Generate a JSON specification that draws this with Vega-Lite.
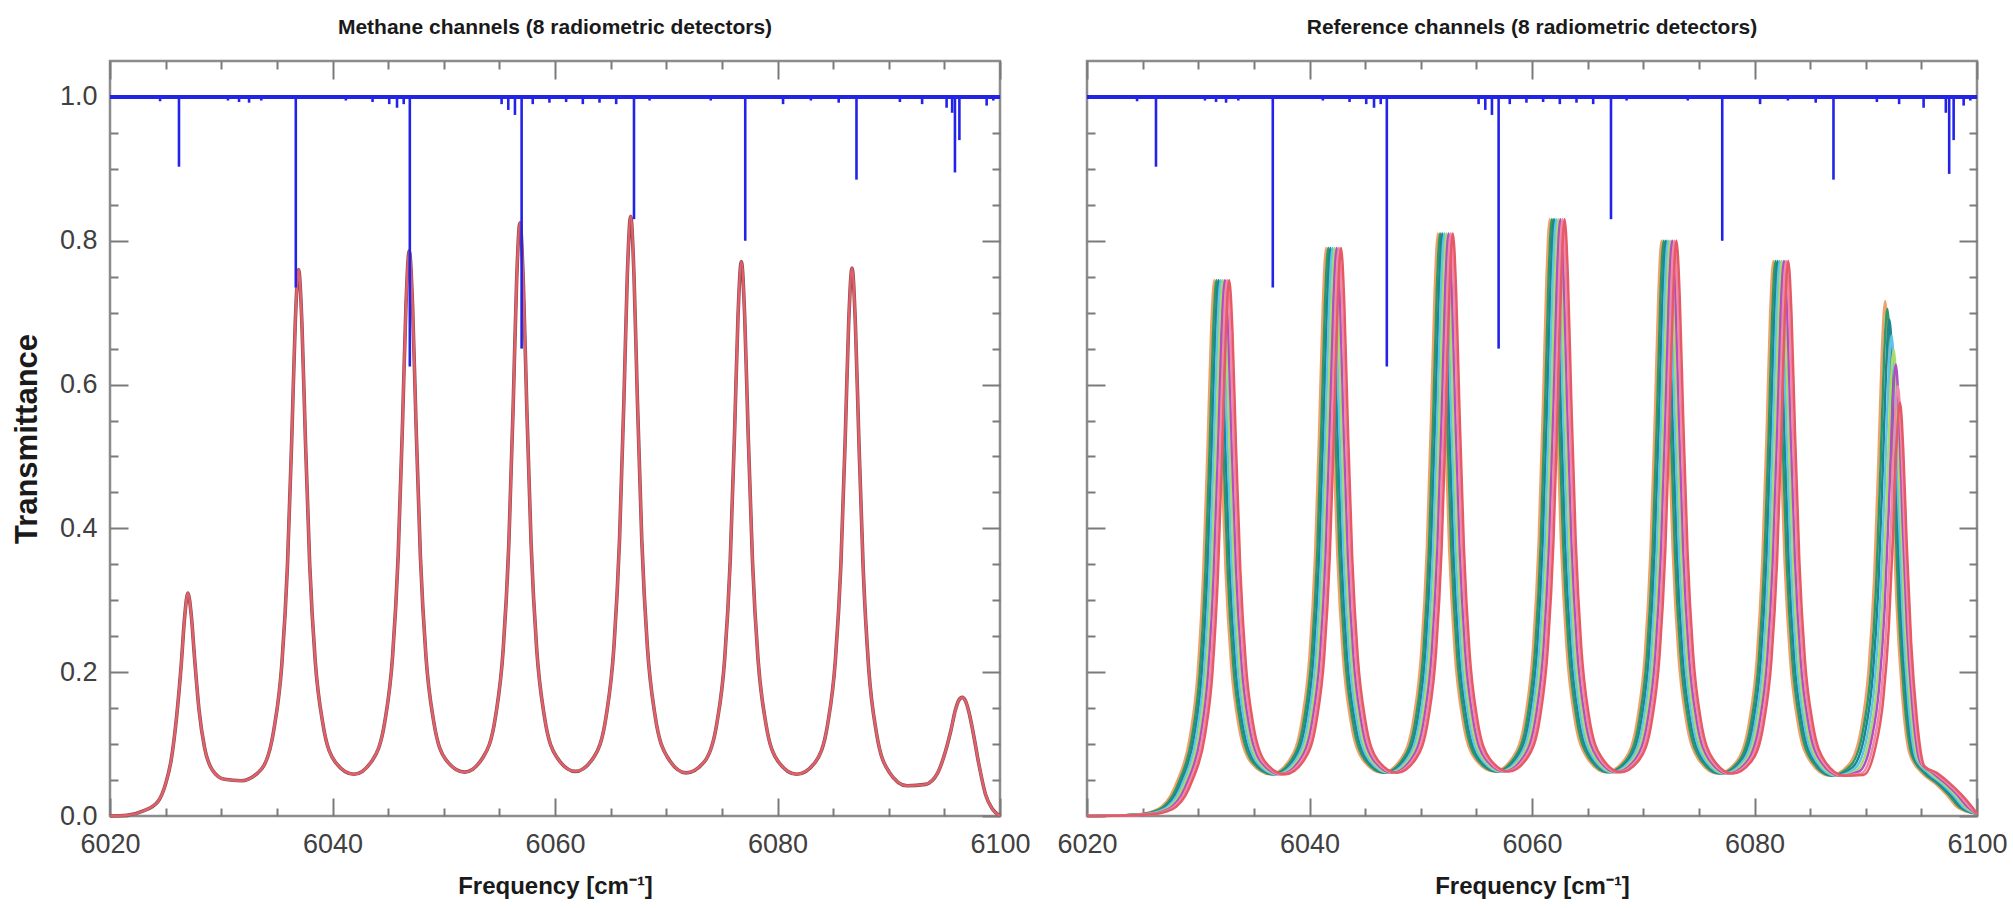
{
"$schema": "https://vega.github.io/schema/vega-lite/v6.json",
"background": "white",
"padding": {"left": 10, "top": 15, "right": 5, "bottom": 5},
"bounds": "flush",
"spacing": 87,
"config": {
 "view": {"stroke": "#8c8c8c", "strokeWidth": 2.5},
 "axis": {"domain": false, "grid": false, "tickColor": "#7a7a7a", "tickWidth": 2, "labelFlush": false, "labelOverlap": false, "labelFont": "Liberation Sans", "labelFontSize": 27, "labelColor": "#404040", "titleFont": "Liberation Sans", "titleFontWeight": "bold", "titleFontSize": 24, "titleColor": "#1a1a1a"},
 "title": {"font": "Liberation Sans", "fontSize": 21, "fontWeight": "bold", "color": "#1a1a1a", "offset": 22}
},
"datasets": {
 "b": [{"f":6024.5,"t":0.994},{"f":6026.2,"t":0.903},{"f":6030.6,"t":0.995},{"f":6031.6,"t":0.993},{"f":6032.5,"t":0.992},{"f":6033.6,"t":0.995},{"f":6036.7,"t":0.735},{"f":6041.2,"t":0.995},{"f":6043.6,"t":0.993},{"f":6045.1,"t":0.99},{"f":6045.8,"t":0.985},{"f":6046.4,"t":0.99},{"f":6046.95,"t":0.625},{"f":6055.2,"t":0.99},{"f":6055.8,"t":0.982},{"f":6056.4,"t":0.975},{"f":6057.0,"t":0.65},{"f":6058.0,"t":0.99},{"f":6059.5,"t":0.992},{"f":6061.0,"t":0.993},{"f":6062.5,"t":0.99},{"f":6064.0,"t":0.992},{"f":6065.5,"t":0.99},{"f":6067.1,"t":0.83},{"f":6068.5,"t":0.995},{"f":6074.0,"t":0.995},{"f":6077.1,"t":0.8},{"f":6080.5,"t":0.99},{"f":6083.0,"t":0.995},{"f":6085.5,"t":0.992},{"f":6087.1,"t":0.885},{"f":6091.0,"t":0.993},{"f":6093.0,"t":0.99},{"f":6095.2,"t":0.985},{"f":6098.8,"t":0.988},{"f":6099.4,"t":0.995}],
 "eL": [{"f":6095.7,"t":0.978},{"f":6095.95,"t":0.895},{"f":6096.35,"t":0.94}],
 "eR": [{"f":6097.2,"t":0.978},{"f":6097.5,"t":0.893},{"f":6097.9,"t":0.94}],
 "m": [{"f":6020,"t":0},{"f":6021.5,"t":0.001},{"f":6023,"t":0.007},{"f":6024.3,"t":0.02},{"f":6025,"t":0.045},{"f":6025.5,"t":0.078},{"f":6026,"t":0.14},{"f":6026.4,"t":0.21},{"f":6026.7,"t":0.275},{"f":6027,"t":0.31},{"f":6027.3,"t":0.28},{"f":6027.6,"t":0.22},{"f":6028,"t":0.148},{"f":6028.5,"t":0.095},{"f":6029.2,"t":0.064},{"f":6030.3,"t":0.051},{"f":6031.8,"t":0.049},{"f":6033.65,"t":0.066},{"f":6034.75,"t":0.122},{"f":6035.45,"t":0.212},{"f":6035.95,"t":0.348},{"f":6036.35,"t":0.531},{"f":6036.65,"t":0.685},{"f":6036.95,"t":0.76},{"f":6037.25,"t":0.685},{"f":6037.55,"t":0.531},{"f":6037.95,"t":0.35},{"f":6038.45,"t":0.215},{"f":6039.15,"t":0.127},{"f":6040.25,"t":0.075},{"f":6041.93,"t":0.058},{"f":6043.6,"t":0.078},{"f":6044.7,"t":0.131},{"f":6045.4,"t":0.222},{"f":6045.9,"t":0.361},{"f":6046.3,"t":0.549},{"f":6046.6,"t":0.709},{"f":6046.9,"t":0.786},{"f":6047.2,"t":0.709},{"f":6047.5,"t":0.549},{"f":6047.9,"t":0.361},{"f":6048.4,"t":0.222},{"f":6049.1,"t":0.131},{"f":6050.2,"t":0.078},{"f":6051.88,"t":0.061},{"f":6053.55,"t":0.082},{"f":6054.65,"t":0.138},{"f":6055.35,"t":0.233},{"f":6055.85,"t":0.379},{"f":6056.25,"t":0.576},{"f":6056.55,"t":0.744},{"f":6056.85,"t":0.825},{"f":6057.15,"t":0.744},{"f":6057.45,"t":0.576},{"f":6057.85,"t":0.379},{"f":6058.35,"t":0.233},{"f":6059.05,"t":0.138},{"f":6060.15,"t":0.082},{"f":6061.83,"t":0.062},{"f":6063.5,"t":0.082},{"f":6064.6,"t":0.139},{"f":6065.3,"t":0.236},{"f":6065.8,"t":0.384},{"f":6066.2,"t":0.582},{"f":6066.5,"t":0.752},{"f":6066.8,"t":0.834},{"f":6067.1,"t":0.752},{"f":6067.4,"t":0.582},{"f":6067.8,"t":0.384},{"f":6068.3,"t":0.236},{"f":6069,"t":0.139},{"f":6070.1,"t":0.082},{"f":6071.78,"t":0.06},{"f":6073.45,"t":0.076},{"f":6074.55,"t":0.129},{"f":6075.25,"t":0.218},{"f":6075.75,"t":0.355},{"f":6076.15,"t":0.538},{"f":6076.45,"t":0.695},{"f":6076.75,"t":0.771},{"f":6077.05,"t":0.695},{"f":6077.35,"t":0.538},{"f":6077.75,"t":0.355},{"f":6078.25,"t":0.218},{"f":6078.95,"t":0.129},{"f":6080.05,"t":0.076},{"f":6081.73,"t":0.058},{"f":6083.4,"t":0.075},{"f":6084.5,"t":0.127},{"f":6085.2,"t":0.216},{"f":6085.7,"t":0.35},{"f":6086.1,"t":0.532},{"f":6086.4,"t":0.687},{"f":6086.7,"t":0.762},{"f":6087,"t":0.685},{"f":6087.3,"t":0.53},{"f":6087.7,"t":0.345},{"f":6088.2,"t":0.205},{"f":6088.9,"t":0.115},{"f":6090,"t":0.062},{"f":6091.65,"t":0.042},{"f":6093.3,"t":0.044},{"f":6094.4,"t":0.06},{"f":6095.1,"t":0.09},{"f":6095.6,"t":0.12},{"f":6096,"t":0.148},{"f":6096.3,"t":0.161},{"f":6096.6,"t":0.165},{"f":6096.9,"t":0.16},{"f":6097.2,"t":0.145},{"f":6097.6,"t":0.115},{"f":6098.1,"t":0.072},{"f":6098.7,"t":0.03},{"f":6099.3,"t":0.01},{"f":6100,"t":0}],
 "r0": [{"f":6020,"t":0},{"f":6023.00,"t":0.001},{"f":6025.00,"t":0.003},{"f":6025.80,"t":0.006},{"f":6026.70,"t":0.013},{"f":6027.50,"t":0.028},{"f":6028.15,"t":0.05},{"f":6029.25,"t":0.11},{"f":6029.95,"t":0.2},{"f":6030.45,"t":0.34},{"f":6030.85,"t":0.52},{"f":6031.15,"t":0.672},{"f":6031.45,"t":0.745},{"f":6031.75,"t":0.672},{"f":6032.05,"t":0.52},{"f":6032.45,"t":0.343},{"f":6032.95,"t":0.211},{"f":6033.65,"t":0.124},{"f":6034.75,"t":0.074},{"f":6036.47,"t":0.058},{"f":6038.20,"t":0.078},{"f":6039.30,"t":0.132},{"f":6040.00,"t":0.223},{"f":6040.50,"t":0.363},{"f":6040.90,"t":0.552},{"f":6041.20,"t":0.712},{"f":6041.50,"t":0.79},{"f":6041.80,"t":0.712},{"f":6042.10,"t":0.552},{"f":6042.50,"t":0.363},{"f":6043.00,"t":0.223},{"f":6043.70,"t":0.132},{"f":6044.80,"t":0.078},{"f":6046.53,"t":0.06},{"f":6048.25,"t":0.08},{"f":6049.35,"t":0.135},{"f":6050.05,"t":0.229},{"f":6050.55,"t":0.373},{"f":6050.95,"t":0.566},{"f":6051.25,"t":0.73},{"f":6051.55,"t":0.81},{"f":6051.85,"t":0.73},{"f":6052.15,"t":0.566},{"f":6052.55,"t":0.373},{"f":6053.05,"t":0.229},{"f":6053.75,"t":0.135},{"f":6054.85,"t":0.08},{"f":6056.58,"t":0.062},{"f":6058.30,"t":0.082},{"f":6059.40,"t":0.138},{"f":6060.10,"t":0.235},{"f":6060.60,"t":0.382},{"f":6061.00,"t":0.58},{"f":6061.30,"t":0.748},{"f":6061.60,"t":0.83},{"f":6061.90,"t":0.748},{"f":6062.20,"t":0.58},{"f":6062.60,"t":0.382},{"f":6063.10,"t":0.235},{"f":6063.80,"t":0.138},{"f":6064.90,"t":0.082},{"f":6066.63,"t":0.061},{"f":6068.35,"t":0.079},{"f":6069.45,"t":0.133},{"f":6070.15,"t":0.226},{"f":6070.65,"t":0.368},{"f":6071.05,"t":0.559},{"f":6071.35,"t":0.721},{"f":6071.65,"t":0.8},{"f":6071.95,"t":0.721},{"f":6072.25,"t":0.559},{"f":6072.65,"t":0.368},{"f":6073.15,"t":0.226},{"f":6073.85,"t":0.133},{"f":6074.95,"t":0.079},{"f":6076.68,"t":0.059},{"f":6078.40,"t":0.076},{"f":6079.50,"t":0.129},{"f":6080.20,"t":0.218},{"f":6080.70,"t":0.355},{"f":6081.10,"t":0.539},{"f":6081.40,"t":0.696},{"f":6081.70,"t":0.772},{"f":6082.00,"t":0.696},{"f":6082.30,"t":0.539},{"f":6082.70,"t":0.355},{"f":6083.20,"t":0.218},{"f":6083.90,"t":0.129},{"f":6085.00,"t":0.076},{"f":6086.73,"t":0.056},{"f":6088.45,"t":0.071},{"f":6089.55,"t":0.119},{"f":6090.25,"t":0.203},{"f":6090.75,"t":0.329},{"f":6091.15,"t":0.5},{"f":6091.45,"t":0.646},{"f":6091.75,"t":0.716},{"f":6092.05,"t":0.63},{"f":6092.35,"t":0.473},{"f":6092.75,"t":0.301},{"f":6093.25,"t":0.172},{"f":6093.95,"t":0.086},{"f":6095.05,"t":0.06},{"f":6096.25,"t":0.045},{"f":6097.25,"t":0.03},{"f":6098.25,"t":0.012},{"f":6100,"t":0.003}],
 "r1": [{"f":6020,"t":0},{"f":6023.19,"t":0.001},{"f":6025.19,"t":0.003},{"f":6025.99,"t":0.006},{"f":6026.89,"t":0.013},{"f":6027.69,"t":0.028},{"f":6028.34,"t":0.05},{"f":6029.44,"t":0.11},{"f":6030.14,"t":0.2},{"f":6030.64,"t":0.34},{"f":6031.04,"t":0.52},{"f":6031.34,"t":0.672},{"f":6031.64,"t":0.745},{"f":6031.94,"t":0.672},{"f":6032.24,"t":0.52},{"f":6032.64,"t":0.343},{"f":6033.14,"t":0.211},{"f":6033.84,"t":0.124},{"f":6034.94,"t":0.074},{"f":6036.66,"t":0.058},{"f":6038.39,"t":0.078},{"f":6039.49,"t":0.132},{"f":6040.19,"t":0.223},{"f":6040.69,"t":0.363},{"f":6041.09,"t":0.552},{"f":6041.39,"t":0.712},{"f":6041.69,"t":0.79},{"f":6041.99,"t":0.712},{"f":6042.29,"t":0.552},{"f":6042.69,"t":0.363},{"f":6043.19,"t":0.223},{"f":6043.89,"t":0.132},{"f":6044.99,"t":0.078},{"f":6046.72,"t":0.06},{"f":6048.44,"t":0.08},{"f":6049.54,"t":0.135},{"f":6050.24,"t":0.229},{"f":6050.74,"t":0.373},{"f":6051.14,"t":0.566},{"f":6051.44,"t":0.73},{"f":6051.74,"t":0.81},{"f":6052.04,"t":0.73},{"f":6052.34,"t":0.566},{"f":6052.74,"t":0.373},{"f":6053.24,"t":0.229},{"f":6053.94,"t":0.135},{"f":6055.04,"t":0.08},{"f":6056.77,"t":0.062},{"f":6058.49,"t":0.082},{"f":6059.59,"t":0.138},{"f":6060.29,"t":0.235},{"f":6060.79,"t":0.382},{"f":6061.19,"t":0.58},{"f":6061.49,"t":0.748},{"f":6061.79,"t":0.83},{"f":6062.09,"t":0.748},{"f":6062.39,"t":0.58},{"f":6062.79,"t":0.382},{"f":6063.29,"t":0.235},{"f":6063.99,"t":0.138},{"f":6065.09,"t":0.082},{"f":6066.82,"t":0.061},{"f":6068.54,"t":0.079},{"f":6069.64,"t":0.133},{"f":6070.34,"t":0.226},{"f":6070.84,"t":0.368},{"f":6071.24,"t":0.559},{"f":6071.54,"t":0.721},{"f":6071.84,"t":0.8},{"f":6072.14,"t":0.721},{"f":6072.44,"t":0.559},{"f":6072.84,"t":0.368},{"f":6073.34,"t":0.226},{"f":6074.04,"t":0.133},{"f":6075.14,"t":0.079},{"f":6076.87,"t":0.059},{"f":6078.59,"t":0.076},{"f":6079.69,"t":0.129},{"f":6080.39,"t":0.218},{"f":6080.89,"t":0.355},{"f":6081.29,"t":0.539},{"f":6081.59,"t":0.696},{"f":6081.89,"t":0.772},{"f":6082.19,"t":0.696},{"f":6082.49,"t":0.539},{"f":6082.89,"t":0.355},{"f":6083.39,"t":0.218},{"f":6084.09,"t":0.129},{"f":6085.19,"t":0.076},{"f":6086.92,"t":0.056},{"f":6088.64,"t":0.07},{"f":6089.74,"t":0.118},{"f":6090.44,"t":0.199},{"f":6090.94,"t":0.324},{"f":6091.34,"t":0.492},{"f":6091.64,"t":0.636},{"f":6091.94,"t":0.705},{"f":6092.24,"t":0.62},{"f":6092.54,"t":0.465},{"f":6092.94,"t":0.296},{"f":6093.44,"t":0.169},{"f":6094.14,"t":0.085},{"f":6095.24,"t":0.06},{"f":6096.44,"t":0.045},{"f":6097.44,"t":0.03},{"f":6098.44,"t":0.012},{"f":6100,"t":0.003}],
 "r2": [{"f":6020,"t":0},{"f":6023.38,"t":0.001},{"f":6025.38,"t":0.003},{"f":6026.18,"t":0.006},{"f":6027.08,"t":0.013},{"f":6027.88,"t":0.028},{"f":6028.53,"t":0.05},{"f":6029.63,"t":0.11},{"f":6030.33,"t":0.2},{"f":6030.83,"t":0.34},{"f":6031.23,"t":0.52},{"f":6031.53,"t":0.672},{"f":6031.83,"t":0.745},{"f":6032.13,"t":0.672},{"f":6032.43,"t":0.52},{"f":6032.83,"t":0.343},{"f":6033.33,"t":0.211},{"f":6034.03,"t":0.124},{"f":6035.13,"t":0.074},{"f":6036.85,"t":0.058},{"f":6038.58,"t":0.078},{"f":6039.68,"t":0.132},{"f":6040.38,"t":0.223},{"f":6040.88,"t":0.363},{"f":6041.28,"t":0.552},{"f":6041.58,"t":0.712},{"f":6041.88,"t":0.79},{"f":6042.18,"t":0.712},{"f":6042.48,"t":0.552},{"f":6042.88,"t":0.363},{"f":6043.38,"t":0.223},{"f":6044.08,"t":0.132},{"f":6045.18,"t":0.078},{"f":6046.91,"t":0.06},{"f":6048.63,"t":0.08},{"f":6049.73,"t":0.135},{"f":6050.43,"t":0.229},{"f":6050.93,"t":0.373},{"f":6051.33,"t":0.566},{"f":6051.63,"t":0.73},{"f":6051.93,"t":0.81},{"f":6052.23,"t":0.73},{"f":6052.53,"t":0.566},{"f":6052.93,"t":0.373},{"f":6053.43,"t":0.229},{"f":6054.13,"t":0.135},{"f":6055.23,"t":0.08},{"f":6056.96,"t":0.062},{"f":6058.68,"t":0.082},{"f":6059.78,"t":0.138},{"f":6060.48,"t":0.235},{"f":6060.98,"t":0.382},{"f":6061.38,"t":0.58},{"f":6061.68,"t":0.748},{"f":6061.98,"t":0.83},{"f":6062.28,"t":0.748},{"f":6062.58,"t":0.58},{"f":6062.98,"t":0.382},{"f":6063.48,"t":0.235},{"f":6064.18,"t":0.138},{"f":6065.28,"t":0.082},{"f":6067.01,"t":0.061},{"f":6068.73,"t":0.079},{"f":6069.83,"t":0.133},{"f":6070.53,"t":0.226},{"f":6071.03,"t":0.368},{"f":6071.43,"t":0.559},{"f":6071.73,"t":0.721},{"f":6072.03,"t":0.8},{"f":6072.33,"t":0.721},{"f":6072.63,"t":0.559},{"f":6073.03,"t":0.368},{"f":6073.53,"t":0.226},{"f":6074.23,"t":0.133},{"f":6075.33,"t":0.079},{"f":6077.06,"t":0.059},{"f":6078.78,"t":0.076},{"f":6079.88,"t":0.129},{"f":6080.58,"t":0.218},{"f":6081.08,"t":0.355},{"f":6081.48,"t":0.539},{"f":6081.78,"t":0.696},{"f":6082.08,"t":0.772},{"f":6082.38,"t":0.696},{"f":6082.68,"t":0.539},{"f":6083.08,"t":0.355},{"f":6083.58,"t":0.218},{"f":6084.28,"t":0.129},{"f":6085.38,"t":0.076},{"f":6087.11,"t":0.056},{"f":6088.83,"t":0.068},{"f":6089.93,"t":0.115},{"f":6090.63,"t":0.195},{"f":6091.13,"t":0.317},{"f":6091.53,"t":0.482},{"f":6091.83,"t":0.622},{"f":6092.13,"t":0.69},{"f":6092.43,"t":0.607},{"f":6092.73,"t":0.455},{"f":6093.13,"t":0.29},{"f":6093.63,"t":0.166},{"f":6094.33,"t":0.083},{"f":6095.43,"t":0.06},{"f":6096.63,"t":0.045},{"f":6097.63,"t":0.03},{"f":6098.63,"t":0.012},{"f":6100,"t":0.003}],
 "r3": [{"f":6020,"t":0},{"f":6023.57,"t":0.001},{"f":6025.57,"t":0.003},{"f":6026.37,"t":0.006},{"f":6027.27,"t":0.013},{"f":6028.07,"t":0.028},{"f":6028.72,"t":0.05},{"f":6029.82,"t":0.11},{"f":6030.52,"t":0.2},{"f":6031.02,"t":0.34},{"f":6031.42,"t":0.52},{"f":6031.72,"t":0.672},{"f":6032.02,"t":0.745},{"f":6032.32,"t":0.672},{"f":6032.62,"t":0.52},{"f":6033.02,"t":0.343},{"f":6033.52,"t":0.211},{"f":6034.22,"t":0.124},{"f":6035.32,"t":0.074},{"f":6037.04,"t":0.058},{"f":6038.77,"t":0.078},{"f":6039.87,"t":0.132},{"f":6040.57,"t":0.223},{"f":6041.07,"t":0.363},{"f":6041.47,"t":0.552},{"f":6041.77,"t":0.712},{"f":6042.07,"t":0.79},{"f":6042.37,"t":0.712},{"f":6042.67,"t":0.552},{"f":6043.07,"t":0.363},{"f":6043.57,"t":0.223},{"f":6044.27,"t":0.132},{"f":6045.37,"t":0.078},{"f":6047.10,"t":0.06},{"f":6048.82,"t":0.08},{"f":6049.92,"t":0.135},{"f":6050.62,"t":0.229},{"f":6051.12,"t":0.373},{"f":6051.52,"t":0.566},{"f":6051.82,"t":0.73},{"f":6052.12,"t":0.81},{"f":6052.42,"t":0.73},{"f":6052.72,"t":0.566},{"f":6053.12,"t":0.373},{"f":6053.62,"t":0.229},{"f":6054.32,"t":0.135},{"f":6055.42,"t":0.08},{"f":6057.15,"t":0.062},{"f":6058.87,"t":0.082},{"f":6059.97,"t":0.138},{"f":6060.67,"t":0.235},{"f":6061.17,"t":0.382},{"f":6061.57,"t":0.58},{"f":6061.87,"t":0.748},{"f":6062.17,"t":0.83},{"f":6062.47,"t":0.748},{"f":6062.77,"t":0.58},{"f":6063.17,"t":0.382},{"f":6063.67,"t":0.235},{"f":6064.37,"t":0.138},{"f":6065.47,"t":0.082},{"f":6067.20,"t":0.061},{"f":6068.92,"t":0.079},{"f":6070.02,"t":0.133},{"f":6070.72,"t":0.226},{"f":6071.22,"t":0.368},{"f":6071.62,"t":0.559},{"f":6071.92,"t":0.721},{"f":6072.22,"t":0.8},{"f":6072.52,"t":0.721},{"f":6072.82,"t":0.559},{"f":6073.22,"t":0.368},{"f":6073.72,"t":0.226},{"f":6074.42,"t":0.133},{"f":6075.52,"t":0.079},{"f":6077.25,"t":0.059},{"f":6078.97,"t":0.076},{"f":6080.07,"t":0.129},{"f":6080.77,"t":0.218},{"f":6081.27,"t":0.355},{"f":6081.67,"t":0.539},{"f":6081.97,"t":0.696},{"f":6082.27,"t":0.772},{"f":6082.57,"t":0.696},{"f":6082.87,"t":0.539},{"f":6083.27,"t":0.355},{"f":6083.77,"t":0.218},{"f":6084.47,"t":0.129},{"f":6085.57,"t":0.076},{"f":6087.30,"t":0.056},{"f":6089.02,"t":0.066},{"f":6090.12,"t":0.111},{"f":6090.82,"t":0.189},{"f":6091.32,"t":0.307},{"f":6091.72,"t":0.466},{"f":6092.02,"t":0.602},{"f":6092.32,"t":0.668},{"f":6092.62,"t":0.588},{"f":6092.92,"t":0.441},{"f":6093.32,"t":0.281},{"f":6093.82,"t":0.16},{"f":6094.52,"t":0.08},{"f":6095.62,"t":0.06},{"f":6096.82,"t":0.045},{"f":6097.82,"t":0.03},{"f":6098.82,"t":0.012},{"f":6100,"t":0.003}],
 "r4": [{"f":6020,"t":0},{"f":6023.76,"t":0.001},{"f":6025.76,"t":0.003},{"f":6026.56,"t":0.006},{"f":6027.46,"t":0.013},{"f":6028.26,"t":0.028},{"f":6028.91,"t":0.05},{"f":6030.01,"t":0.11},{"f":6030.71,"t":0.2},{"f":6031.21,"t":0.34},{"f":6031.61,"t":0.52},{"f":6031.91,"t":0.672},{"f":6032.21,"t":0.745},{"f":6032.51,"t":0.672},{"f":6032.81,"t":0.52},{"f":6033.21,"t":0.343},{"f":6033.71,"t":0.211},{"f":6034.41,"t":0.124},{"f":6035.51,"t":0.074},{"f":6037.23,"t":0.058},{"f":6038.96,"t":0.078},{"f":6040.06,"t":0.132},{"f":6040.76,"t":0.223},{"f":6041.26,"t":0.363},{"f":6041.66,"t":0.552},{"f":6041.96,"t":0.712},{"f":6042.26,"t":0.79},{"f":6042.56,"t":0.712},{"f":6042.86,"t":0.552},{"f":6043.26,"t":0.363},{"f":6043.76,"t":0.223},{"f":6044.46,"t":0.132},{"f":6045.56,"t":0.078},{"f":6047.29,"t":0.06},{"f":6049.01,"t":0.08},{"f":6050.11,"t":0.135},{"f":6050.81,"t":0.229},{"f":6051.31,"t":0.373},{"f":6051.71,"t":0.566},{"f":6052.01,"t":0.73},{"f":6052.31,"t":0.81},{"f":6052.61,"t":0.73},{"f":6052.91,"t":0.566},{"f":6053.31,"t":0.373},{"f":6053.81,"t":0.229},{"f":6054.51,"t":0.135},{"f":6055.61,"t":0.08},{"f":6057.34,"t":0.062},{"f":6059.06,"t":0.082},{"f":6060.16,"t":0.138},{"f":6060.86,"t":0.235},{"f":6061.36,"t":0.382},{"f":6061.76,"t":0.58},{"f":6062.06,"t":0.748},{"f":6062.36,"t":0.83},{"f":6062.66,"t":0.748},{"f":6062.96,"t":0.58},{"f":6063.36,"t":0.382},{"f":6063.86,"t":0.235},{"f":6064.56,"t":0.138},{"f":6065.66,"t":0.082},{"f":6067.39,"t":0.061},{"f":6069.11,"t":0.079},{"f":6070.21,"t":0.133},{"f":6070.91,"t":0.226},{"f":6071.41,"t":0.368},{"f":6071.81,"t":0.559},{"f":6072.11,"t":0.721},{"f":6072.41,"t":0.8},{"f":6072.71,"t":0.721},{"f":6073.01,"t":0.559},{"f":6073.41,"t":0.368},{"f":6073.91,"t":0.226},{"f":6074.61,"t":0.133},{"f":6075.71,"t":0.079},{"f":6077.44,"t":0.059},{"f":6079.16,"t":0.076},{"f":6080.26,"t":0.129},{"f":6080.96,"t":0.218},{"f":6081.46,"t":0.355},{"f":6081.86,"t":0.539},{"f":6082.16,"t":0.696},{"f":6082.46,"t":0.772},{"f":6082.76,"t":0.696},{"f":6083.06,"t":0.539},{"f":6083.46,"t":0.355},{"f":6083.96,"t":0.218},{"f":6084.66,"t":0.129},{"f":6085.76,"t":0.076},{"f":6087.49,"t":0.056},{"f":6089.21,"t":0.064},{"f":6090.31,"t":0.108},{"f":6091.01,"t":0.183},{"f":6091.51,"t":0.298},{"f":6091.91,"t":0.452},{"f":6092.21,"t":0.584},{"f":6092.51,"t":0.648},{"f":6092.81,"t":0.57},{"f":6093.11,"t":0.428},{"f":6093.51,"t":0.272},{"f":6094.01,"t":0.156},{"f":6094.71,"t":0.078},{"f":6095.81,"t":0.06},{"f":6097.01,"t":0.045},{"f":6098.01,"t":0.03},{"f":6099.01,"t":0.012},{"f":6100,"t":0.003}],
 "r5": [{"f":6020,"t":0},{"f":6023.95,"t":0.001},{"f":6025.95,"t":0.003},{"f":6026.75,"t":0.006},{"f":6027.65,"t":0.013},{"f":6028.45,"t":0.028},{"f":6029.10,"t":0.05},{"f":6030.20,"t":0.11},{"f":6030.90,"t":0.2},{"f":6031.40,"t":0.34},{"f":6031.80,"t":0.52},{"f":6032.10,"t":0.672},{"f":6032.40,"t":0.745},{"f":6032.70,"t":0.672},{"f":6033.00,"t":0.52},{"f":6033.40,"t":0.343},{"f":6033.90,"t":0.211},{"f":6034.60,"t":0.124},{"f":6035.70,"t":0.074},{"f":6037.42,"t":0.058},{"f":6039.15,"t":0.078},{"f":6040.25,"t":0.132},{"f":6040.95,"t":0.223},{"f":6041.45,"t":0.363},{"f":6041.85,"t":0.552},{"f":6042.15,"t":0.712},{"f":6042.45,"t":0.79},{"f":6042.75,"t":0.712},{"f":6043.05,"t":0.552},{"f":6043.45,"t":0.363},{"f":6043.95,"t":0.223},{"f":6044.65,"t":0.132},{"f":6045.75,"t":0.078},{"f":6047.48,"t":0.06},{"f":6049.20,"t":0.08},{"f":6050.30,"t":0.135},{"f":6051.00,"t":0.229},{"f":6051.50,"t":0.373},{"f":6051.90,"t":0.566},{"f":6052.20,"t":0.73},{"f":6052.50,"t":0.81},{"f":6052.80,"t":0.73},{"f":6053.10,"t":0.566},{"f":6053.50,"t":0.373},{"f":6054.00,"t":0.229},{"f":6054.70,"t":0.135},{"f":6055.80,"t":0.08},{"f":6057.53,"t":0.062},{"f":6059.25,"t":0.082},{"f":6060.35,"t":0.138},{"f":6061.05,"t":0.235},{"f":6061.55,"t":0.382},{"f":6061.95,"t":0.58},{"f":6062.25,"t":0.748},{"f":6062.55,"t":0.83},{"f":6062.85,"t":0.748},{"f":6063.15,"t":0.58},{"f":6063.55,"t":0.382},{"f":6064.05,"t":0.235},{"f":6064.75,"t":0.138},{"f":6065.85,"t":0.082},{"f":6067.58,"t":0.061},{"f":6069.30,"t":0.079},{"f":6070.40,"t":0.133},{"f":6071.10,"t":0.226},{"f":6071.60,"t":0.368},{"f":6072.00,"t":0.559},{"f":6072.30,"t":0.721},{"f":6072.60,"t":0.8},{"f":6072.90,"t":0.721},{"f":6073.20,"t":0.559},{"f":6073.60,"t":0.368},{"f":6074.10,"t":0.226},{"f":6074.80,"t":0.133},{"f":6075.90,"t":0.079},{"f":6077.63,"t":0.059},{"f":6079.35,"t":0.076},{"f":6080.45,"t":0.129},{"f":6081.15,"t":0.218},{"f":6081.65,"t":0.355},{"f":6082.05,"t":0.539},{"f":6082.35,"t":0.696},{"f":6082.65,"t":0.772},{"f":6082.95,"t":0.696},{"f":6083.25,"t":0.539},{"f":6083.65,"t":0.355},{"f":6084.15,"t":0.218},{"f":6084.85,"t":0.129},{"f":6085.95,"t":0.076},{"f":6087.68,"t":0.056},{"f":6089.40,"t":0.062},{"f":6090.50,"t":0.105},{"f":6091.20,"t":0.178},{"f":6091.70,"t":0.289},{"f":6092.10,"t":0.439},{"f":6092.40,"t":0.566},{"f":6092.70,"t":0.628},{"f":6093.00,"t":0.553},{"f":6093.30,"t":0.414},{"f":6093.70,"t":0.264},{"f":6094.20,"t":0.151},{"f":6094.90,"t":0.075},{"f":6096.00,"t":0.06},{"f":6097.20,"t":0.045},{"f":6098.20,"t":0.03},{"f":6099.20,"t":0.012},{"f":6100,"t":0.003}],
 "r6": [{"f":6020,"t":0},{"f":6024.14,"t":0.001},{"f":6026.14,"t":0.003},{"f":6026.94,"t":0.006},{"f":6027.84,"t":0.013},{"f":6028.64,"t":0.028},{"f":6029.29,"t":0.05},{"f":6030.39,"t":0.11},{"f":6031.09,"t":0.2},{"f":6031.59,"t":0.34},{"f":6031.99,"t":0.52},{"f":6032.29,"t":0.672},{"f":6032.59,"t":0.745},{"f":6032.89,"t":0.672},{"f":6033.19,"t":0.52},{"f":6033.59,"t":0.343},{"f":6034.09,"t":0.211},{"f":6034.79,"t":0.124},{"f":6035.89,"t":0.074},{"f":6037.61,"t":0.058},{"f":6039.34,"t":0.078},{"f":6040.44,"t":0.132},{"f":6041.14,"t":0.223},{"f":6041.64,"t":0.363},{"f":6042.04,"t":0.552},{"f":6042.34,"t":0.712},{"f":6042.64,"t":0.79},{"f":6042.94,"t":0.712},{"f":6043.24,"t":0.552},{"f":6043.64,"t":0.363},{"f":6044.14,"t":0.223},{"f":6044.84,"t":0.132},{"f":6045.94,"t":0.078},{"f":6047.67,"t":0.06},{"f":6049.39,"t":0.08},{"f":6050.49,"t":0.135},{"f":6051.19,"t":0.229},{"f":6051.69,"t":0.373},{"f":6052.09,"t":0.566},{"f":6052.39,"t":0.73},{"f":6052.69,"t":0.81},{"f":6052.99,"t":0.73},{"f":6053.29,"t":0.566},{"f":6053.69,"t":0.373},{"f":6054.19,"t":0.229},{"f":6054.89,"t":0.135},{"f":6055.99,"t":0.08},{"f":6057.72,"t":0.062},{"f":6059.44,"t":0.082},{"f":6060.54,"t":0.138},{"f":6061.24,"t":0.235},{"f":6061.74,"t":0.382},{"f":6062.14,"t":0.58},{"f":6062.44,"t":0.748},{"f":6062.74,"t":0.83},{"f":6063.04,"t":0.748},{"f":6063.34,"t":0.58},{"f":6063.74,"t":0.382},{"f":6064.24,"t":0.235},{"f":6064.94,"t":0.138},{"f":6066.04,"t":0.082},{"f":6067.77,"t":0.061},{"f":6069.49,"t":0.079},{"f":6070.59,"t":0.133},{"f":6071.29,"t":0.226},{"f":6071.79,"t":0.368},{"f":6072.19,"t":0.559},{"f":6072.49,"t":0.721},{"f":6072.79,"t":0.8},{"f":6073.09,"t":0.721},{"f":6073.39,"t":0.559},{"f":6073.79,"t":0.368},{"f":6074.29,"t":0.226},{"f":6074.99,"t":0.133},{"f":6076.09,"t":0.079},{"f":6077.82,"t":0.059},{"f":6079.54,"t":0.076},{"f":6080.64,"t":0.129},{"f":6081.34,"t":0.218},{"f":6081.84,"t":0.355},{"f":6082.24,"t":0.539},{"f":6082.54,"t":0.696},{"f":6082.84,"t":0.772},{"f":6083.14,"t":0.696},{"f":6083.44,"t":0.539},{"f":6083.84,"t":0.355},{"f":6084.34,"t":0.218},{"f":6085.04,"t":0.129},{"f":6086.14,"t":0.076},{"f":6087.87,"t":0.056},{"f":6089.59,"t":0.059},{"f":6090.69,"t":0.1},{"f":6091.39,"t":0.169},{"f":6091.89,"t":0.275},{"f":6092.29,"t":0.418},{"f":6092.59,"t":0.539},{"f":6092.89,"t":0.598},{"f":6093.19,"t":0.526},{"f":6093.49,"t":0.395},{"f":6093.89,"t":0.251},{"f":6094.39,"t":0.144},{"f":6095.09,"t":0.072},{"f":6096.19,"t":0.06},{"f":6097.39,"t":0.045},{"f":6098.39,"t":0.03},{"f":6099.39,"t":0.012},{"f":6100,"t":0.003}],
 "r7": [{"f":6020,"t":0},{"f":6024.33,"t":0.001},{"f":6026.33,"t":0.003},{"f":6027.13,"t":0.006},{"f":6028.03,"t":0.013},{"f":6028.83,"t":0.028},{"f":6029.48,"t":0.05},{"f":6030.58,"t":0.11},{"f":6031.28,"t":0.2},{"f":6031.78,"t":0.34},{"f":6032.18,"t":0.52},{"f":6032.48,"t":0.672},{"f":6032.78,"t":0.745},{"f":6033.08,"t":0.672},{"f":6033.38,"t":0.52},{"f":6033.78,"t":0.343},{"f":6034.28,"t":0.211},{"f":6034.98,"t":0.124},{"f":6036.08,"t":0.074},{"f":6037.80,"t":0.058},{"f":6039.53,"t":0.078},{"f":6040.63,"t":0.132},{"f":6041.33,"t":0.223},{"f":6041.83,"t":0.363},{"f":6042.23,"t":0.552},{"f":6042.53,"t":0.712},{"f":6042.83,"t":0.79},{"f":6043.13,"t":0.712},{"f":6043.43,"t":0.552},{"f":6043.83,"t":0.363},{"f":6044.33,"t":0.223},{"f":6045.03,"t":0.132},{"f":6046.13,"t":0.078},{"f":6047.86,"t":0.06},{"f":6049.58,"t":0.08},{"f":6050.68,"t":0.135},{"f":6051.38,"t":0.229},{"f":6051.88,"t":0.373},{"f":6052.28,"t":0.566},{"f":6052.58,"t":0.73},{"f":6052.88,"t":0.81},{"f":6053.18,"t":0.73},{"f":6053.48,"t":0.566},{"f":6053.88,"t":0.373},{"f":6054.38,"t":0.229},{"f":6055.08,"t":0.135},{"f":6056.18,"t":0.08},{"f":6057.91,"t":0.062},{"f":6059.63,"t":0.082},{"f":6060.73,"t":0.138},{"f":6061.43,"t":0.235},{"f":6061.93,"t":0.382},{"f":6062.33,"t":0.58},{"f":6062.63,"t":0.748},{"f":6062.93,"t":0.83},{"f":6063.23,"t":0.748},{"f":6063.53,"t":0.58},{"f":6063.93,"t":0.382},{"f":6064.43,"t":0.235},{"f":6065.13,"t":0.138},{"f":6066.23,"t":0.082},{"f":6067.96,"t":0.061},{"f":6069.68,"t":0.079},{"f":6070.78,"t":0.133},{"f":6071.48,"t":0.226},{"f":6071.98,"t":0.368},{"f":6072.38,"t":0.559},{"f":6072.68,"t":0.721},{"f":6072.98,"t":0.8},{"f":6073.28,"t":0.721},{"f":6073.58,"t":0.559},{"f":6073.98,"t":0.368},{"f":6074.48,"t":0.226},{"f":6075.18,"t":0.133},{"f":6076.28,"t":0.079},{"f":6078.01,"t":0.059},{"f":6079.73,"t":0.076},{"f":6080.83,"t":0.129},{"f":6081.53,"t":0.218},{"f":6082.03,"t":0.355},{"f":6082.43,"t":0.539},{"f":6082.73,"t":0.696},{"f":6083.03,"t":0.772},{"f":6083.33,"t":0.696},{"f":6083.63,"t":0.539},{"f":6084.03,"t":0.355},{"f":6084.53,"t":0.218},{"f":6085.23,"t":0.129},{"f":6086.33,"t":0.076},{"f":6088.06,"t":0.056},{"f":6089.78,"t":0.057},{"f":6090.88,"t":0.096},{"f":6091.58,"t":0.163},{"f":6092.08,"t":0.264},{"f":6092.48,"t":0.402},{"f":6092.78,"t":0.519},{"f":6093.08,"t":0.575},{"f":6093.38,"t":0.506},{"f":6093.68,"t":0.38},{"f":6094.08,"t":0.242},{"f":6094.58,"t":0.138},{"f":6095.28,"t":0.069},{"f":6096.38,"t":0.06},{"f":6097.58,"t":0.045},{"f":6098.58,"t":0.03},{"f":6099.58,"t":0.012},{"f":6100,"t":0.003}]
},
"hconcat": [
 {
  "width": 890, "height": 755,
  "title": {"text": "Methane channels (8 radiometric detectors)"},
  "resolve": {"axis": {"x": "independent", "y": "independent"}},
  "layer": [
   {"data": {"name": "m"}, "mark": {"type": "line", "color": "#8a4e52", "strokeWidth": 3.6, "interpolate": "monotone"},
    "encoding": {
     "x": {"field": "f", "type": "quantitative", "scale": {"domain": [6020, 6100], "nice": false, "zero": false}, "axis": {"orient": "bottom", "values": [6025,6030,6035,6045,6050,6055,6065,6070,6075,6085,6090,6095], "tickSize": -8, "labels": false, "title": null}},
     "y": {"field": "t", "type": "quantitative", "scale": {"domain": [0, 1.05], "nice": false, "zero": false}, "axis": {"orient": "left", "values": [0.05,0.1,0.15,0.25,0.3,0.35,0.45,0.5,0.55,0.65,0.7,0.75,0.85,0.9,0.95], "tickSize": -8, "labels": false, "title": null}}
    }},
   {"data": {"name": "m"}, "mark": {"type": "line", "color": "#e3606a", "strokeWidth": 2.4, "interpolate": "monotone"},
    "encoding": {
     "x": {"field": "f", "type": "quantitative", "scale": {"domain": [6020, 6100], "nice": false, "zero": false}, "axis": {"orient": "top", "values": [6020,6040,6060,6080,6100], "tickSize": -18, "labels": false, "title": null}},
     "y": {"field": "t", "type": "quantitative", "scale": {"domain": [0, 1.05], "nice": false, "zero": false}, "axis": {"orient": "right", "values": [0,0.2,0.4,0.6,0.8,1], "tickSize": -18, "labels": false, "title": null}}
    }},
   {"data": {"name": "m"}, "mark": {"type": "point", "opacity": 0, "size": 1},
    "encoding": {
     "x": {"field": "f", "type": "quantitative", "scale": {"domain": [6020, 6100], "nice": false, "zero": false}, "axis": {"orient": "top", "values": [6025,6030,6035,6045,6050,6055,6065,6070,6075,6085,6090,6095], "tickSize": -8, "labels": false, "title": null}},
     "y": {"field": "t", "type": "quantitative", "scale": {"domain": [0, 1.05], "nice": false, "zero": false}, "axis": {"orient": "right", "values": [0.05,0.1,0.15,0.25,0.3,0.35,0.45,0.5,0.55,0.65,0.7,0.75,0.85,0.9,0.95], "tickSize": -8, "labels": false, "title": null}}
    }},
   {"data": {"name": "b"}, "mark": {"type": "rule", "color": "#2323e8", "strokeWidth": 2.6},
    "encoding": {
     "x": {"field": "f", "type": "quantitative", "scale": {"domain": [6020, 6100], "nice": false, "zero": false}, "axis": {"orient": "bottom", "values": [6020,6040,6060,6080,6100], "format": "d", "tickSize": -18, "labelPadding": 33, "title": "Frequency [cm⁻¹]", "titlePadding": 17}},
     "y": {"field": "t", "type": "quantitative", "scale": {"domain": [0, 1.05], "nice": false, "zero": false}, "axis": {"orient": "left", "values": [0,0.2,0.4,0.6,0.8,1], "format": ".1f", "tickSize": -18, "labelPadding": 31, "title": "Transmittance", "titlePadding": 16, "titleFontSize": 31}},
     "y2": {"datum": 1}
    }},
   {"data": {"name": "eL"}, "mark": {"type": "rule", "color": "#2323e8", "strokeWidth": 2.6},
    "encoding": {
     "x": {"field": "f", "type": "quantitative", "scale": {"domain": [6020, 6100], "nice": false, "zero": false}, "axis": null},
     "y": {"field": "t", "type": "quantitative", "scale": {"domain": [0, 1.05], "nice": false, "zero": false}, "axis": null},
     "y2": {"datum": 1}
    }},
   {"data": {"name": "b"}, "mark": {"type": "rule", "color": "#2323e8", "strokeWidth": 3},
    "encoding": {"y": {"datum": 1, "type": "quantitative", "scale": {"domain": [0, 1.05], "nice": false, "zero": false}, "axis": null}}}
  ]
 },
 {
  "width": 890, "height": 755,
  "title": {"text": "Reference channels (8 radiometric detectors)"},
  "resolve": {"axis": {"x": "independent", "y": "independent"}},
  "layer": [
   {"data": {"name": "r0"}, "mark": {"type": "line", "color": "#f0a06a", "strokeWidth": 2.5, "interpolate": "monotone"},
    "encoding": {
     "x": {"field": "f", "type": "quantitative", "scale": {"domain": [6020, 6100], "nice": false, "zero": false}, "axis": {"orient": "bottom", "values": [6020,6040,6060,6080,6100], "format": "d", "tickSize": -18, "labelPadding": 33, "title": "Frequency [cm⁻¹]", "titlePadding": 17}},
     "y": {"field": "t", "type": "quantitative", "scale": {"domain": [0, 1.05], "nice": false, "zero": false}, "axis": {"orient": "left", "values": [0,0.2,0.4,0.6,0.8,1], "tickSize": -18, "labels": false, "title": null}}
    }},
   {"data": {"name": "r1"}, "mark": {"type": "line", "color": "#2e9a62", "strokeWidth": 2.5, "interpolate": "monotone"},
    "encoding": {
     "x": {"field": "f", "type": "quantitative", "scale": {"domain": [6020, 6100], "nice": false, "zero": false}, "axis": {"orient": "bottom", "values": [6025,6030,6035,6045,6050,6055,6065,6070,6075,6085,6090,6095], "tickSize": -8, "labels": false, "title": null}},
     "y": {"field": "t", "type": "quantitative", "scale": {"domain": [0, 1.05], "nice": false, "zero": false}, "axis": {"orient": "left", "values": [0.05,0.1,0.15,0.25,0.3,0.35,0.45,0.5,0.55,0.65,0.7,0.75,0.85,0.9,0.95], "tickSize": -8, "labels": false, "title": null}}
    }},
   {"data": {"name": "r2"}, "mark": {"type": "line", "color": "#1a8792", "strokeWidth": 2.5, "interpolate": "monotone"},
    "encoding": {
     "x": {"field": "f", "type": "quantitative", "scale": {"domain": [6020, 6100], "nice": false, "zero": false}, "axis": {"orient": "top", "values": [6020,6040,6060,6080,6100], "tickSize": -18, "labels": false, "title": null}},
     "y": {"field": "t", "type": "quantitative", "scale": {"domain": [0, 1.05], "nice": false, "zero": false}, "axis": {"orient": "right", "values": [0,0.2,0.4,0.6,0.8,1], "tickSize": -18, "labels": false, "title": null}}
    }},
   {"data": {"name": "r3"}, "mark": {"type": "line", "color": "#5ec4ea", "strokeWidth": 2.5, "interpolate": "monotone"},
    "encoding": {
     "x": {"field": "f", "type": "quantitative", "scale": {"domain": [6020, 6100], "nice": false, "zero": false}, "axis": {"orient": "top", "values": [6025,6030,6035,6045,6050,6055,6065,6070,6075,6085,6090,6095], "tickSize": -8, "labels": false, "title": null}},
     "y": {"field": "t", "type": "quantitative", "scale": {"domain": [0, 1.05], "nice": false, "zero": false}, "axis": {"orient": "right", "values": [0.05,0.1,0.15,0.25,0.3,0.35,0.45,0.5,0.55,0.65,0.7,0.75,0.85,0.9,0.95], "tickSize": -8, "labels": false, "title": null}}
    }},
   {"data": {"name": "r4"}, "mark": {"type": "line", "color": "#a8da6e", "strokeWidth": 2.5, "interpolate": "monotone"},
    "encoding": {"x": {"field": "f", "type": "quantitative", "scale": {"domain": [6020, 6100], "nice": false, "zero": false}, "axis": null}, "y": {"field": "t", "type": "quantitative", "scale": {"domain": [0, 1.05], "nice": false, "zero": false}, "axis": null}}},
   {"data": {"name": "r5"}, "mark": {"type": "line", "color": "#b04fc4", "strokeWidth": 2.5, "interpolate": "monotone"},
    "encoding": {"x": {"field": "f", "type": "quantitative", "scale": {"domain": [6020, 6100], "nice": false, "zero": false}, "axis": null}, "y": {"field": "t", "type": "quantitative", "scale": {"domain": [0, 1.05], "nice": false, "zero": false}, "axis": null}}},
   {"data": {"name": "r6"}, "mark": {"type": "line", "color": "#f088a8", "strokeWidth": 2.5, "interpolate": "monotone"},
    "encoding": {"x": {"field": "f", "type": "quantitative", "scale": {"domain": [6020, 6100], "nice": false, "zero": false}, "axis": null}, "y": {"field": "t", "type": "quantitative", "scale": {"domain": [0, 1.05], "nice": false, "zero": false}, "axis": null}}},
   {"data": {"name": "r7"}, "mark": {"type": "line", "color": "#e65a66", "strokeWidth": 2.5, "interpolate": "monotone"},
    "encoding": {"x": {"field": "f", "type": "quantitative", "scale": {"domain": [6020, 6100], "nice": false, "zero": false}, "axis": null}, "y": {"field": "t", "type": "quantitative", "scale": {"domain": [0, 1.05], "nice": false, "zero": false}, "axis": null}}},
   {"data": {"name": "b"}, "mark": {"type": "rule", "color": "#2323e8", "strokeWidth": 2.6},
    "encoding": {
     "x": {"field": "f", "type": "quantitative", "scale": {"domain": [6020, 6100], "nice": false, "zero": false}, "axis": null},
     "y": {"field": "t", "type": "quantitative", "scale": {"domain": [0, 1.05], "nice": false, "zero": false}, "axis": null},
     "y2": {"datum": 1}
    }},
   {"data": {"name": "eR"}, "mark": {"type": "rule", "color": "#2323e8", "strokeWidth": 2.6},
    "encoding": {
     "x": {"field": "f", "type": "quantitative", "scale": {"domain": [6020, 6100], "nice": false, "zero": false}, "axis": null},
     "y": {"field": "t", "type": "quantitative", "scale": {"domain": [0, 1.05], "nice": false, "zero": false}, "axis": null},
     "y2": {"datum": 1}
    }},
   {"data": {"name": "b"}, "mark": {"type": "rule", "color": "#2323e8", "strokeWidth": 3},
    "encoding": {"y": {"datum": 1, "type": "quantitative", "scale": {"domain": [0, 1.05], "nice": false, "zero": false}, "axis": null}}}
  ]
 }
]
}
